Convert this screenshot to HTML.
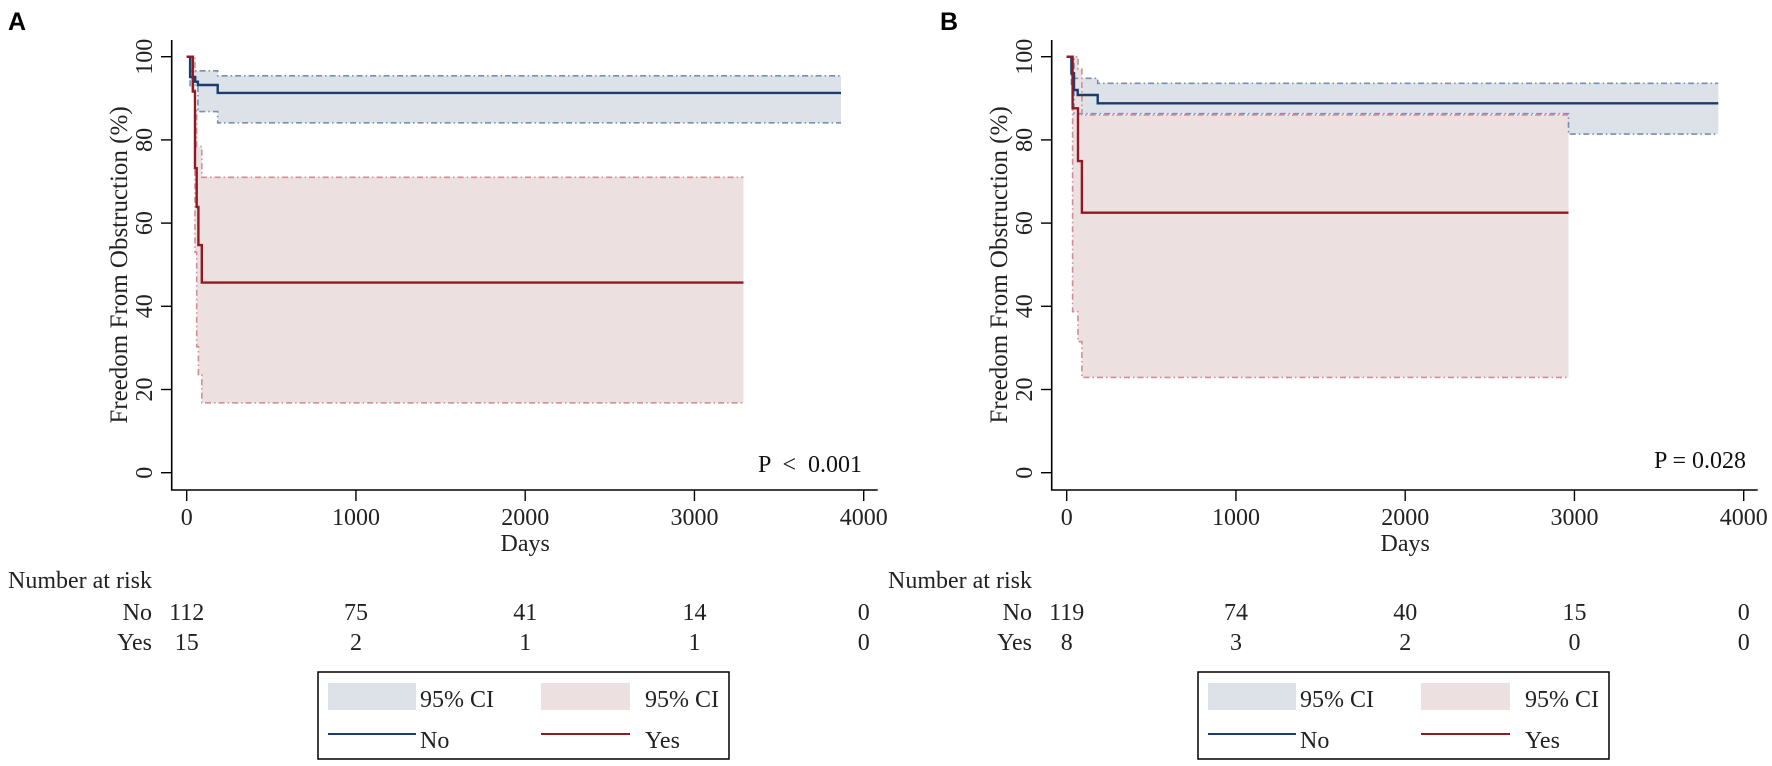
<!DOCTYPE html>
<html><head><meta charset="utf-8"><style>
html,body{margin:0;padding:0;background:#fff;}
svg{display:block;font-family:"Liberation Serif",serif;}
</style></head><body>
<svg id="chart" width="1772" height="766" viewBox="0 0 1772 766"></svg>
<script>
const xTicks=[0,1000,2000,3000,4000];
const yTicks=[0,20,40,60,80,100];
// Panel A
const aNoT=[0,20,50,66,183,3866];
const aNoS=[100,95.1,94,93.2,91.3,91.3];
const aNoUpT=[0,20,183,3866];
const aNoUp=[100,96.6,95.4,95.4];
const aNoLoT=[0,20,66,183,3866];
const aNoLo=[100,92.8,86.8,84.1,84.1];
const aYesT=[0,36,49,59,69,89,3290];
const aYesS=[100,91.6,73.2,63.9,54.7,45.7,45.7];
const aYesUpT=[0,49,59,89,3290];
const aYesUp=[100,87,78.4,71,71];
const aYesLoT=[0,36,49,59,69,89,3290];
const aYesLo=[100,92,53,30.3,23.5,16.8,16.8];
const aRiskNo=[112,75,41,14,0];
const aRiskYes=[15,2,1,1,0];
// Panel B
const bNoT=[0,28,43,65,183,3850];
const bNoS=[100,96,92,90.8,88.8,88.8];
const bNoUpT=[0,43,183,3850];
const bNoUp=[100,94.8,93.6,93.6];
const bNoLoT=[0,28,43,2965,3850];
const bNoLo=[100,93,86.3,81.4,81.4];
const bYesT=[0,35,67,90,2965];
const bYesS=[100,87.6,74.9,62.5,62.5];
const bYesUpT=[0,67,90,2965];
const bYesUp=[100,97,86,86];
const bYesLoT=[0,35,67,90,2965];
const bYesLo=[100,38.7,31.5,22.9,22.9];
const bRiskNo=[119,74,40,15,0];
const bRiskYes=[8,3,2,0,0];

const NS='http://www.w3.org/2000/svg';
const svg=document.getElementById('chart');
function el(tag,attrs,parent,text){const e=document.createElementNS(NS,tag);for(const k in attrs)e.setAttribute(k,attrs[k]);if(text!==undefined)e.textContent=text;(parent||svg).appendChild(e);return e;}
function steps(T,V,xs,ys){const p=[];for(let i=0;i<T.length;i++){if(i>0)p.push([xs(T[i]),ys(V[i-1])]);p.push([xs(T[i]),ys(V[i])]);}return p;}
function toPath(p){return p.map((q,i)=>(i?'L':'M')+q[0].toFixed(1)+','+q[1].toFixed(1)).join(' ');}

function panel(dx,letter,d,pText,pAnchorX,pY){
  const g=el('g',{});
  
  
  const xs=t=>186.7+dx+t*0.16925;
  const ys=v=>472.7-v*4.16;
  const lab=el('text',{x:dx+(letter==='A'?8:60),y:30,'font-family':'Liberation Sans, sans-serif','font-weight':'bold','font-size':25,fill:'#000'},g,letter);
  
  
  const band=(UT,U,LT,L,fill,name)=>{const up=steps(UT,U,xs,ys),lo=steps(LT,L,xs,ys).reverse();const e=el('path',{d:toPath(up.concat(lo))+'Z',fill:fill,stroke:'none'},g);};
  band(d.noUpT,d.noUp,d.noLoT,d.noLo,'#dde2e9','ci-band-no');
  band(d.yesUpT,d.yesUp,d.yesLoT,d.yesLo,'#ede0e1','ci-band-yes');
  const ciLine=(T,V,col,name)=>{const e=el('path',{d:toPath(steps(T,V,xs,ys)),fill:'none',stroke:col,'stroke-width':1.6,'stroke-dasharray':'6,3,1.5,3'},g);};
  ciLine(d.noUpT,d.noUp,'#7490b2','ci-upper-no');
  ciLine(d.noLoT,d.noLo,'#7490b2','ci-lower-no');
  ciLine(d.yesUpT,d.yesUp,'#cf8f96','ci-upper-yes');
  ciLine(d.yesLoT,d.yesLo,'#cf8f96','ci-lower-yes');
  const curve=(T,V,col,name)=>{const e=el('path',{d:toPath(steps(T,V,xs,ys)),fill:'none',stroke:col,'stroke-width':2.4},g);};
  curve(d.noT,d.noS,'#1b3d6d','survival-curve-no');
  curve(d.yesT,d.yesS,'#8e1b24','survival-curve-yes');
  const ax=el('path',{d:`M${171.7+dx},40 V490 H${xs(4000)+14}`,fill:'none',stroke:'#000','stroke-width':1.6},g);
  
  
  yTicks.forEach(v=>{
    el('line',{x1:161+dx,x2:171.7+dx,y1:ys(v),y2:ys(v),stroke:'#000','stroke-width':1.4},g);
    const t=el('text',{transform:`translate(${152+dx},${ys(v)}) rotate(-90)`,'text-anchor':'middle','font-size':24,fill:'#222'},g,String(v));
    
    
  });
  xTicks.forEach(v=>{
    el('line',{x1:xs(v),x2:xs(v),y1:490,y2:501,stroke:'#000','stroke-width':1.4},g);
    const t=el('text',{x:xs(v),y:525,'text-anchor':'middle','font-size':24,fill:'#222'},g,String(v));
    
    
  });
  const yt=el('text',{transform:`translate(${127+dx},265) rotate(-90)`,'text-anchor':'middle','font-size':25,fill:'#222'},g,'Freedom From Obstruction (%)');
  
  
  const xt=el('text',{x:xs(2000),y:551,'text-anchor':'middle','font-size':24,fill:'#222'},g,'Days');
  
  
  const pt=el('text',{x:pAnchorX,y:pY,'text-anchor':'end','font-size':24,fill:'#111',style:'white-space:pre'},g,pText);
  
  
  const rt=el('text',{x:8+dx,y:588,'font-size':24,fill:'#222'},g,'Number at risk');
  
  
  [['No',d.riskNo,620],['Yes',d.riskYes,650]].forEach(r=>{
    const l=el('text',{x:152+dx,y:r[2],'text-anchor':'end','font-size':24,fill:'#222'},g,r[0]);
    
    
    r[1].forEach((n,i)=>{
      const t=el('text',{x:xs(xTicks[i]),y:r[2],'text-anchor':'middle','font-size':24,fill:'#222'},g,String(n));
      
      
    });
  });
  const lg=el('g',{},g);
  
  
  el('rect',{x:318+dx,y:672,width:411,height:87,fill:'#fff',stroke:'#000','stroke-width':1.5},lg);
  el('rect',{x:328+dx,y:683,width:88,height:27,fill:'#dde2e9'},lg);
  el('rect',{x:541+dx,y:683,width:89,height:27,fill:'#ede0e1'},lg);
  el('line',{x1:328+dx,x2:416+dx,y1:734,y2:734,stroke:'#1b3d6d','stroke-width':2},lg);
  el('line',{x1:541+dx,x2:630+dx,y1:734,y2:734,stroke:'#8e1b24','stroke-width':2},lg);
  [['95% CI',420,707,'legend-entry-ci-no'],['95% CI',645,707,'legend-entry-ci-yes'],['No',420,748,'legend-entry-no'],['Yes',645,748,'legend-entry-yes']].forEach(e=>{
    const t=el('text',{x:e[1]+dx,y:e[2],'font-size':24,fill:'#222'},lg,e[0]);
    
    
  });
}
panel(0,'A',{noT:aNoT,noS:aNoS,noUpT:aNoUpT,noUp:aNoUp,noLoT:aNoLoT,noLo:aNoLo,yesT:aYesT,yesS:aYesS,yesUpT:aYesUpT,yesUp:aYesUp,yesLoT:aYesLoT,yesLo:aYesLo,riskNo:aRiskNo,riskYes:aRiskYes},'P  <  0.001',862,472);
panel(880,'B',{noT:bNoT,noS:bNoS,noUpT:bNoUpT,noUp:bNoUp,noLoT:bNoLoT,noLo:bNoLo,yesT:bYesT,yesS:bYesS,yesUpT:bYesUpT,yesUp:bYesUp,yesLoT:bYesLoT,yesLo:bYesLo,riskNo:bRiskNo,riskYes:bRiskYes},'P = 0.028',1746,468);
</script>
</body></html>
